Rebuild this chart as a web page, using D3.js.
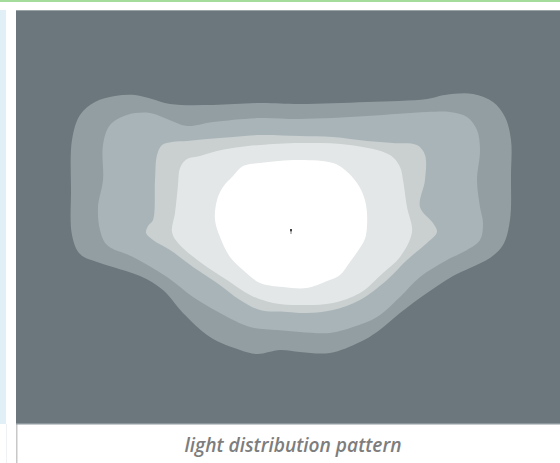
<!DOCTYPE html>
<html><head><meta charset="utf-8">
<script src="https://cdn.jsdelivr.net/npm/d3@7/dist/d3.min.js"></script>
<style>html,body{margin:0;padding:0;background:#fff;overflow:hidden}</style>
</head><body>
<svg id="c" width="560" height="463"></svg>
<script>
// Illuminance contour levels (outer -> inner), points in plot units
const levelNames = ["level1", "level2", "level3", "level4", "level5"];
const levelColors = ["#939ea2", "#a8b4b8", "#cacfd0", "#e3e7e8", "#ffffff"];
const level1 = [[72,140],[80,115],[95,102],[115,96],[135,95],[152,99],[170,104],[213,105],[260,103],[300,104],[367,102],[427,99],[445,95],[473,94],[493,102],[505,117],[511,140],[511,175],[510,220],[503,245],[490,258],[470,268],[453,276],[427,293],[400,313],[377,332],[360,342],[330,353],[300,352],[280,350],[257,354],[240,350],[210,337],[183,313],[163,290],[140,276],[100,263],[80,254],[72,235],[71,190]];
const level2 = [[103,145],[110,125],[127,115],[150,113],[167,119],[187,126],[213,122],[260,118],[300,119],[367,116],[427,112],[450,112],[467,117],[477,130],[480,150],[477,180],[480,207],[483,223],[480,240],[467,250],[447,260],[420,277],[400,297],[377,317],[353,327],[330,333],[300,332],[277,330],[250,327],[220,313],[193,297],[167,277],[133,257],[107,245],[100,230],[98,207],[103,180]];
const level3 = [[157,155],[162,145],[172,142],[187,141],[207,139],[233,137],[260,135],[300,136],[333,137],[367,141],[393,143],[417,145],[425,155],[425,180],[420,207],[433,223],[437,232],[427,243],[407,260],[387,280],[360,300],[333,310],[307,313],[287,312],[260,310],[240,300],[217,283],[193,267],[170,250],[153,240],[146,233],[148,226],[153,220],[155,180]];
const level4 = [[180,168],[187,159],[200,156],[217,151],[240,147],[260,145],[300,143],[350,145],[390,155],[400,167],[403,180],[407,207],[412,232],[400,257],[383,273],[360,293],[333,303],[300,305],[273,303],[250,295],[227,280],[200,262],[178,243],[172,232],[175,213],[178,185]];
const level5 = [[233,176],[243,166],[260,163],[300,160],[333,163],[345,170],[357,183],[364,197],[367,213],[366,235],[363,243],[350,262],[340,275],[327,281],[307,288],[283,287],[260,283],[243,270],[230,257],[220,237],[215,220],[217,200],[223,187]];
const luminaire = [291, 231];
const caption = "light distribution pattern";

const levels = [level1, level2, level3, level4, level5];
const svg = d3.select("#c");

// frame
svg.append("rect").attr("x",0).attr("y",0).attr("width",560).attr("height",2).attr("fill","#a4dc9c");
svg.append("rect").attr("x",0).attr("y",10).attr("width",6).attr("height",414).attr("fill","#e0f0f6");
svg.append("rect").attr("x",16).attr("y",424).attr("width",1.5).attr("height",39).attr("fill","#c8c8c8");
svg.append("rect").attr("x",6).attr("y",424).attr("width",1).attr("height",39).attr("fill","#eef2f4");

const x0 = 16, y0 = 10, W = 544, H = 414;
svg.append("rect").attr("x",x0).attr("y",y0).attr("width",W).attr("height",H).attr("fill","#6b777c");
svg.append("rect").attr("x",x0).attr("y",y0).attr("width",W).attr("height",1).attr("fill","#9aa3a7");
svg.append("rect").attr("x",x0).attr("y",y0+H-1).attr("width",W).attr("height",1.5).attr("fill","#8d979b");

const x = d3.scaleLinear().domain([16, 560]).range([x0, x0 + W]);
const y = d3.scaleLinear().domain([10, 424]).range([y0, y0 + H]);

const line = d3.line().x(d => x(d[0])).y(d => y(d[1])).curve(d3.curveCatmullRomClosed.alpha(0.5));

svg.append("g").selectAll("path").data(levels).join("path")
  .attr("d", line)
  .attr("fill", (d, i) => levelColors[i])
  .attr("class", (d, i) => levelNames[i]);

// luminaire marker
const lg = svg.append("g").attr("transform", `translate(${x(luminaire[0])},${y(luminaire[1])})`);
lg.append("rect").attr("x",-1).attr("y",-2).attr("width",2).attr("height",2.5).attr("fill","#444");
lg.append("rect").attr("x",-0.5).attr("y",0.5).attr("width",1).attr("height",2.5).attr("fill","#888");

svg.append("text").attr("x", 293).attr("y", 452)
  .attr("text-anchor","middle")
  .attr("font-family","'Open Sans', 'Liberation Sans', sans-serif")
  .attr("font-style","italic").attr("font-weight","600")
  .attr("font-size", 19).attr("fill","#7d7d7d")
  .attr("textLength", 217).attr("lengthAdjust","spacingAndGlyphs")
  .text(caption);
</script>
</body></html>
